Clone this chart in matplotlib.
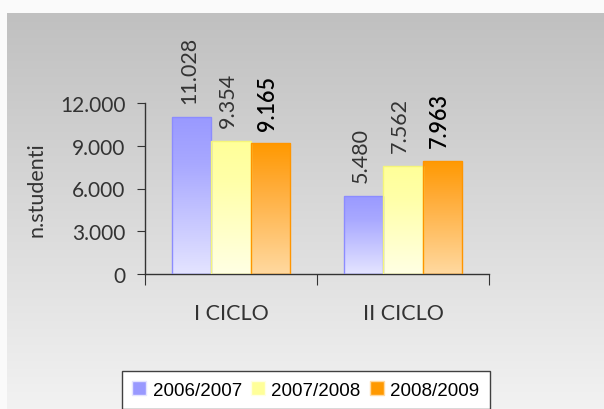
import numpy as np
import matplotlib
matplotlib.use("Agg")
import matplotlib.pyplot as plt
from matplotlib.patches import Patch
from matplotlib.colors import LinearSegmentedColormap

categories = ["I CICLO", "II CICLO"]
series_names = ["2006/2007", "2007/2008", "2008/2009"]
values_0607 = [11028, 5480]
values_0708 = [9354, 7562]
values_0809 = [9165, 7963]
value_labels_0607 = ["11.028", "5.480"]
value_labels_0708 = ["9.354", "7.562"]
value_labels_0809 = ["9.165", "7.963"]
yticks = [0, 3000, 6000, 9000, 12000]
ytick_labels = ["0", "3.000", "6.000", "9.000", "12.000"]

series_values = [values_0607, values_0708, values_0809]
series_labels = [value_labels_0607, value_labels_0708, value_labels_0809]
top_colors = ["#9999ff", "#ffff99", "#ff9900"]
mid_colors = ["#a8a8ff", "#ffffa8", "#ffaa33"]
bottom_colors = ["#e4e4ff", "#ffffe4", "#ffd9a0"]
edge_colors = ["#8c8cff", "#f5f57a", "#ff9500"]
label_bold = [False, False, True]

FONT = "Lato"
W, H = 604, 410
fig = plt.figure(figsize=(W / 100, H / 100), dpi=100)
fig.patch.set_facecolor("#fafafa")

# background gradient panel
bg = fig.add_axes([0, 0, 1, 1], zorder=-10)
bg.set_xlim(0, W)
bg.set_ylim(H, 0)
bg.axis("off")
grad = np.linspace(0, 1, 256).reshape(-1, 1)
bgcmap = LinearSegmentedColormap.from_list("bg", ["#c0c0c0", "#f2f2f2"])
bg.imshow(grad, extent=[7, W, H, 14], cmap=bgcmap, aspect="auto")

ax = fig.add_axes([145 / W, (H - 275) / H, (489 - 145) / W, (275 - 104) / H])
ax.patch.set_alpha(0)
ax.set_xlim(-0.5, 1.5)
ax.set_ylim(0, 12000)

x = np.arange(len(categories))
bw = 0.229
offsets = [-bw, 0, bw]
handles = []
for i in range(3):
    bars = ax.bar(x + offsets[i], series_values[i], width=bw, color="none",
                  edgecolor=edge_colors[i], linewidth=1.0, zorder=3)
    cmap = LinearSegmentedColormap.from_list(
        f"c{i}", [(0, top_colors[i]), (0.3, mid_colors[i]), (1, bottom_colors[i])])
    for b, lab in zip(bars, series_labels[i]):
        x0, y0 = b.get_x(), b.get_y()
        w, h = b.get_width(), b.get_height()
        im = ax.imshow(np.linspace(0, 1, 256).reshape(-1, 1), extent=[x0, x0 + w, y0, y0 + h],
                       cmap=cmap, aspect="auto", origin="upper", zorder=2)
        im.set_clip_path(b)
        ax.annotate(lab, (x0 + w / 2, y0 + h), xytext=(-2, 10), textcoords="offset points",
                    rotation=90, ha="center", va="bottom", fontsize=15.5, family=FONT,
                    color="#000000" if label_bold[i] else "#333333",
                    fontweight="semibold" if label_bold[i] else "normal", annotation_clip=False)
    handles.append(Patch(facecolor=top_colors[i], edgecolor=bottom_colors[i], label=series_names[i]))

ax.set_xlim(-0.5, 1.5)
ax.set_ylim(0, 12000)
ax.set_yticks(yticks)
ax.set_yticklabels(ytick_labels, family=FONT, fontsize=15, color="#333333")
ax.set_xticks([-0.5, 0.5, 1.5], minor=False)
ax.set_xticklabels([])
ax.set_xticks(x, minor=True)
ax.set_xticklabels(categories, minor=True, family=FONT, fontsize=15.5, color="#333333")
ax.tick_params(axis="x", which="major", direction="out", length=8, color="#333333")
ax.tick_params(axis="x", which="minor", length=0, pad=21)
ax.tick_params(axis="y", direction="out", length=6, pad=8, color="#333333")
for s in ["top", "right"]:
    ax.spines[s].set_visible(False)
for s in ["left", "bottom"]:
    ax.spines[s].set_color("#333333")
    ax.spines[s].set_linewidth(1.0)
ax.set_ylabel("n.studenti", family=FONT, fontsize=15.5, color="#333333", labelpad=10)

leg = fig.legend(handles=handles, loc="upper left", bbox_to_anchor=(122 / W, (H - 372) / H),
                 ncol=3, prop={"family": "Liberation Sans", "size": 13.5}, frameon=True,
                 fancybox=False, edgecolor="#404040", facecolor="white", framealpha=1,
                 handlelength=0.72, handleheight=0.72, handletextpad=0.36, columnspacing=0.5,
                 borderpad=0.55, borderaxespad=0)
leg.get_frame().set_linewidth(1.0)

fig.savefig("out.png", dpi=100, facecolor=fig.get_facecolor())
